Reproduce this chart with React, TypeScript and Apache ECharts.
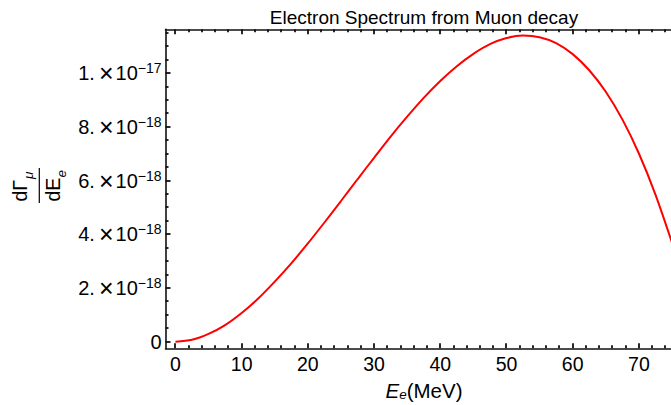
import React, { useEffect, useRef } from "react";
import * as echarts from "echarts";

// Electron energy (MeV) sampled along the plotted curve
const energyMeV = [
  0, 2.5, 5, 7.5, 10, 12.5, 15, 17.5, 20, 22.5, 25, 27.5, 30, 32.5, 35, 37.5,
  40, 42.5, 45, 47.5, 50, 52.5, 55, 57.5, 60, 62.5, 65, 67.5, 70, 72.5, 75,
];
// dΓ/dE values, in units of 1e-18
const rateE18 = [
  0, 0.07, 0.29, 0.62, 1.07, 1.61, 2.24, 2.92, 3.66, 4.44, 5.24, 6.05, 6.85,
  7.64, 8.38, 9.08, 9.71, 10.26, 10.72, 11.08, 11.31, 11.4, 11.34, 11.12, 10.71,
  10.11, 9.31, 8.28, 7.01, 5.48, 3.69,
];

// frame ticks
const xMajorTicks = [0, 10, 20, 30, 40, 50, 60, 70];
const xMinorTicks = [
  2, 4, 6, 8, 12, 14, 16, 18, 22, 24, 26, 28, 32, 34, 36, 38, 42, 44, 46, 48,
  52, 54, 56, 58, 62, 64, 66, 68, 72, 74,
];
const yMajorTicks = [0, 2, 4, 6, 8, 10];
const yMinorTicks = [
  0.5, 1, 1.5, 2.5, 3, 3.5, 4.5, 5, 5.5, 6.5, 7, 7.5, 8.5, 9, 9.5, 10.5, 11,
  11.5,
];

const titleText = "Electron Spectrum from Muon decay";
const xNameMain = "E";
const xNameSub = "e";
const xNameUnit = "(MeV)";

const FONT = "'Liberation Sans', Arial, Helvetica, sans-serif";
const X_MIN = -1.5;
const X_MAX = 75;
const Y_MIN = -0.245;
const Y_MAX = 11.635;

function yLabel(v: number): string {
  if (Math.abs(v) < 1e-9) return "{a|0}";
  let mant = v;
  let exp = 18;
  if (v >= 10) {
    mant = v / 10;
    exp = 17;
  }
  return `{a|${mant}.}{x|\u00d7}{a|10}{s|\u2212${exp}}`;
}

function tickStyle() {
  return { stroke: "#111", lineWidth: 1.8, opacity: 1 };
}

function xTickSeries(values: number[], len: number) {
  return {
    type: "custom",
    xAxisIndex: 0,
    yAxisIndex: 0,
    clip: false,
    silent: true,
    z: 10,
    data: values.map((v) => [v, 0]),
    encode: { x: 0, y: 1 },
    renderItem: (_params: any, api: any) => {
      const v = api.value(0);
      const pb = api.coord([v, Y_MIN]);
      const pt = api.coord([v, Y_MAX]);
      const x = Math.round(pb[0]);
      return {
        type: "group",
        children: [
          { type: "line", shape: { x1: x, y1: pb[1], x2: x, y2: pb[1] - len }, style: tickStyle() },
          { type: "line", shape: { x1: x, y1: pt[1], x2: x, y2: pt[1] + len }, style: tickStyle() },
        ],
      };
    },
  };
}

function yTickSeries(values: number[], len: number) {
  return {
    type: "custom",
    xAxisIndex: 0,
    yAxisIndex: 0,
    clip: false,
    silent: true,
    z: 10,
    data: values.map((v) => [0, v]),
    encode: { x: 0, y: 1 },
    renderItem: (_params: any, api: any) => {
      const v = api.value(1);
      const p = api.coord([X_MIN, v]);
      const y = Math.round(p[1]);
      return {
        type: "line",
        shape: { x1: p[0], y1: y, x2: p[0] + len, y2: y },
        style: tickStyle(),
      };
    },
  };
}

export default function App() {
  const ref = useRef<HTMLDivElement>(null);

  useEffect(() => {
    if (!ref.current) return;
    const chart = echarts.init(ref.current, undefined, { renderer: "svg" });

    const frameLine = () => ({ show: true, onZero: false, lineStyle: { color: "#111", width: 1.6 } });

    chart.setOption({
      animation: false,
      backgroundColor: "#fff",
      grid: {
        left: 165.5,
        top: 29.3,
        width: 506.5,
        height: 319,
        outerBoundsMode: "none",
        containLabel: false,
      },
      xAxis: [
        {
          type: "value",
          min: X_MIN,
          max: X_MAX,
          position: "bottom",
          splitLine: { show: false },
          axisLine: frameLine(),
          axisTick: { show: false },
          axisLabel: {
            show: true,
            customValues: xMajorTicks,
            color: "#000",
            fontSize: 19.5,
            fontFamily: FONT,
            margin: 6,
          },
        },
        {
          type: "value",
          min: X_MIN,
          max: X_MAX,
          position: "top",
          splitLine: { show: false },
          axisLine: frameLine(),
          axisTick: { show: false },
          axisLabel: { show: false },
        },
      ],
      yAxis: [
        {
          type: "value",
          min: Y_MIN,
          max: Y_MAX,
          position: "left",
          splitLine: { show: false },
          axisLine: frameLine(),
          axisTick: { show: false },
          axisLabel: {
            show: true,
            customValues: yMajorTicks,
            margin: 4,
            formatter: yLabel,
            rich: {
              a: { fontSize: 20, lineHeight: 24, color: "#000", fontFamily: FONT },
              x: {
                fontSize: 25,
                lineHeight: 24,
                color: "#000",
                fontFamily: FONT,
                padding: [0, 2, 0, 4],
              },
              s: {
                fontSize: 14,
                lineHeight: 15,
                color: "#000",
                fontFamily: FONT,
                verticalAlign: "top",
              },
            },
          },
        },
      ],
      series: [
        {
          type: "line",
          xAxisIndex: 0,
          yAxisIndex: 0,
          data: energyMeV.map((e, i) => [e, rateE18[i]]),
          showSymbol: false,
          smooth: 0.3,
          lineStyle: { color: "#ff0000", width: 2 },
          clip: true,
          silent: true,
        },
        xTickSeries(xMajorTicks, 5),
        xTickSeries(xMinorTicks, 3),
        yTickSeries(yMajorTicks, 5),
        yTickSeries(yMinorTicks, 3),
      ],
      graphic: [
        {
          type: "text",
          x: 424,
          y: 17,
          style: {
            text: titleText,
            fontSize: 19,
            fontFamily: FONT,
            fill: "#000",
            textAlign: "center",
            textVerticalAlign: "middle",
          },
        },
        {
          type: "text",
          x: 424,
          y: 390,
          style: {
            text: `{i|${xNameMain}}{s|${xNameSub}}{n|${xNameUnit}}`,
            textAlign: "center",
            textVerticalAlign: "middle",
            rich: {
              i: { fontSize: 20.5, lineHeight: 22, fontStyle: "italic", fontFamily: FONT, fill: "#000" },
              s: {
                fontSize: 13.5,
                lineHeight: 13,
                fontStyle: "italic",
                fontFamily: FONT,
                fill: "#000",
                verticalAlign: "bottom",
              },
              n: { fontSize: 20.5, lineHeight: 22, fontFamily: FONT, fill: "#000" },
            },
          },
        },
        {
          type: "group",
          x: 39.3,
          y: 185.5,
          rotation: Math.PI / 2,
          children: [
            {
              type: "line",
              shape: { x1: -17.5, y1: 0, x2: 17.5, y2: 0 },
              style: { stroke: "#000", lineWidth: 1.2 },
            },
            {
              type: "text",
              x: -16,
              y: -18.9,
              style: {
                text: "d\u0393",
                fontSize: 19.5,
                fontFamily: FONT,
                fill: "#000",
                textAlign: "left",
                textVerticalAlign: "middle",
              },
            },
            {
              type: "text",
              x: 6.5,
              y: -10.6,
              style: {
                text: "\u03bc",
                fontSize: 13.5,
                fontStyle: "italic",
                fontFamily: FONT,
                fill: "#000",
                textAlign: "left",
                textVerticalAlign: "middle",
              },
            },
            {
              type: "text",
              x: -16,
              y: 14,
              style: {
                text: "dE",
                fontSize: 19.5,
                fontFamily: FONT,
                fill: "#000",
                textAlign: "left",
                textVerticalAlign: "middle",
              },
            },
            {
              type: "text",
              x: 8,
              y: 22.5,
              style: {
                text: "e",
                fontSize: 13.5,
                fontStyle: "italic",
                fontFamily: FONT,
                fill: "#000",
                textAlign: "left",
                textVerticalAlign: "middle",
              },
            },
          ],
        },
      ],
    });

    return () => chart.dispose();
  }, []);

  return (
    <div
      ref={ref}
      style={{ position: "absolute", left: 0, top: 0, width: 671, height: 405, background: "#fff" }}
    />
  );
}
